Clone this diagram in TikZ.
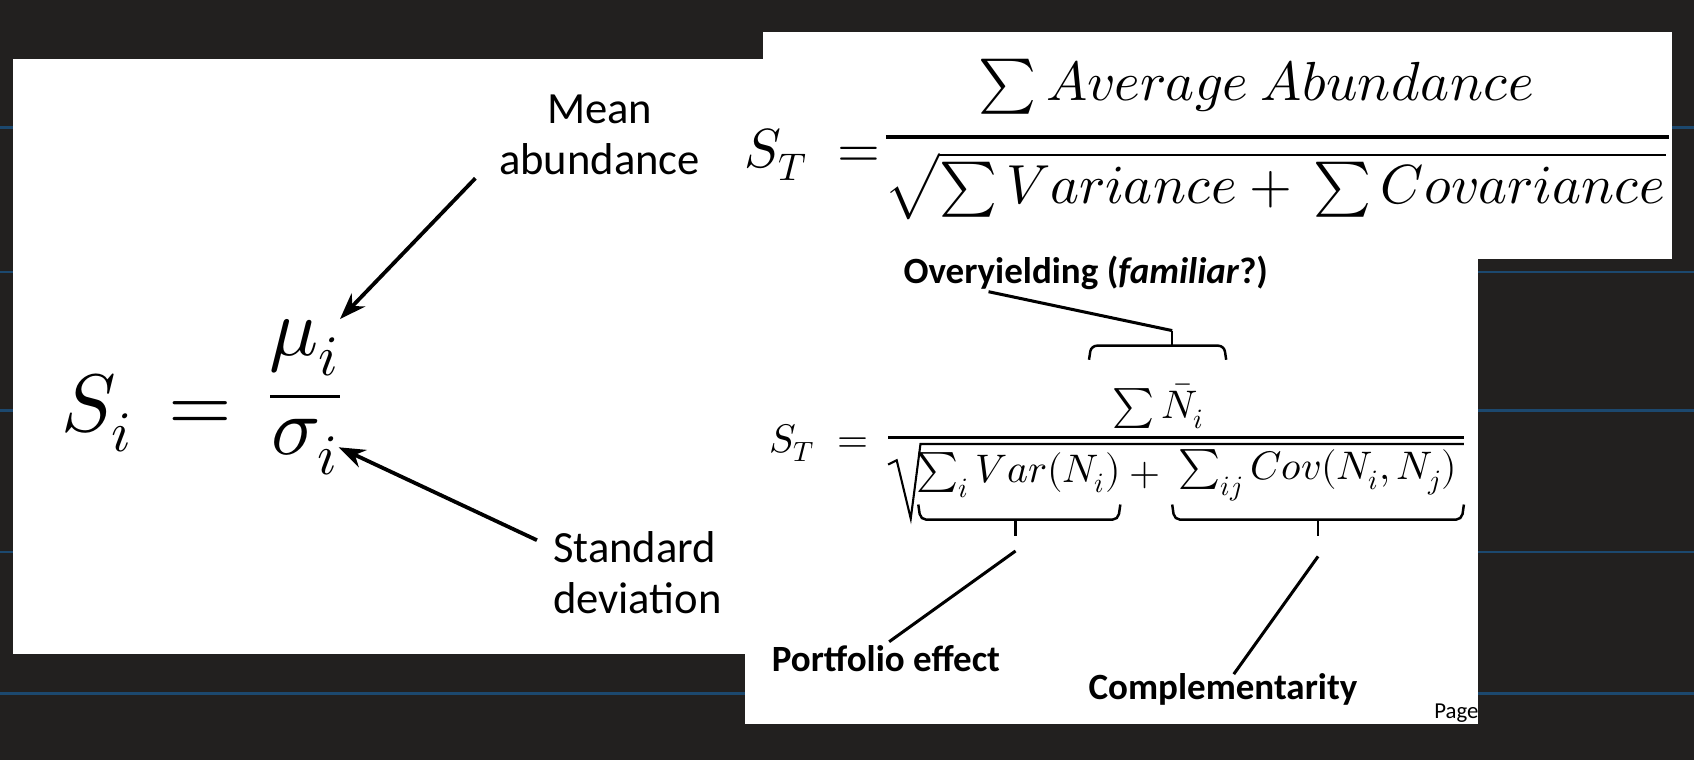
\documentclass[tikz,border=0pt]{standalone}
\usepackage{fontspec}
\setmainfont{Carlito}
\usepackage{unicode-math}
\setmathfont{Latin Modern Math}
\usetikzlibrary{arrows.meta}
\definecolor{bg}{RGB}{34,32,31}
\definecolor{bl}{RGB}{28,72,110}
\tikzset{
  lab/.style={font=\fontsize{23.5}{27}\selectfont, inner sep=0pt, align=center},
  blab/.style={font=\fontsize{19.5}{23}\selectfont\bfseries, inner sep=0pt},
  bigm/.style={font=\fontsize{43}{50}\selectfont, inner sep=0pt},
  midm/.style={font=\fontsize{29}{35}\selectfont, inner sep=0pt},
  smm/.style={font=\fontsize{21}{25}\selectfont, inner sep=0pt},
  arr/.style={line width=2pt, -{Stealth[length=14pt,width=10pt]}},
  lead/.style={line width=1.6pt},
  brace/.style={line width=1.3pt, rounded corners=3pt},
  panel/.style={fill=white, draw=none}
}
\begin{document}
\begin{tikzpicture}[x=0.02cm,y=-0.02cm]
\fill[bg] (0,0) rectangle (1568,703);
\useasboundingbox (0,0) rectangle (1568,703);
\foreach \yy in {118,252,380,511,642} \draw[bl, line width=1.2pt] (0,\yy) -- (1568,\yy);
% panels
\fill[panel] (12,55) rectangle (706,605);
\fill[panel] (706,30) rectangle (1548,240);
\fill[panel] (690,240) rectangle (1368,670);
% left formula
\node[bigm] (si) at (136,382) {$S_i\,=$};
\node[bigm] (mu) at (282,322) {$\mu_i$};
\node[bigm] (sg) at (282,414) {$\sigma_i$};
\draw[line width=2pt] (250,367) -- (315,367);
\node[lab] (mean) at (555,125) {Mean\\abundance};
\node[lab, align=left] (sd) at (590,530) {Standard\\deviation};
\coordinate (ma) at (440,165);
\coordinate (sa) at (497,500);
\draw[arr] (ma) -- (mu.north east);
\draw[arr] (sa) -- (sg.east);
% top right formula
\node[midm] (st1) at (752,143) {$S_T\;=$};
\node[midm] (num1) at (1163,80) {$\sum Average\ Abundance$};
\node[midm] (den1) at (1180,172) {$\sqrt{\sum Variance+\,\sum Covariance}$};
\draw[line width=1.8pt] (820,127) -- (1545,127);
% bottom right formula
\node[smm] (st2) at (758,410) {$S_T\;=$};
\node[smm] (num2) at (1072,376) {$\sum\bar{N}_i$};
\draw[line width=1.2pt] (822,405) -- (1355,405);
\draw[line width=1.1pt] (822,430) -- (830,426) -- (843,480) -- (852,411) -- (1355,411);
\node[smm] (var) at (943,440) {$\sum_i Var(N_i)$};
\node[smm] (pl) at (1060,440) {$+$};
\node[smm] (cov) at (1220,440) {$\sum_{ij} Cov(N_i,N_j)$};
% braces
\draw[brace] (1008,333) -- (1010,320) -- (1133,320) -- (1135,333);
\draw[brace] (1085,320) -- (1085,306);
\draw[brace] (850,467) -- (852,481) -- (1035,481) -- (1037,467);
\draw[brace] (940,481) -- (940,496);
\draw[brace] (1085,467) -- (1087,481) -- (1353,481) -- (1355,467);
\draw[brace] (1220,481) -- (1220,496);
% labels
\node[blab] (ov) at (1005,253) {Overyielding (\textit{familiar}?)};
\node[blab] (pe) at (820,610) {Portfolio effect};
\node[blab] (co) at (1132,638) {Complementarity};
\node[font=\fontsize{12}{14}\selectfont, inner sep=0pt] (pg) at (1348,660) {Page};
\coordinate (ovt) at (1085,306);
\coordinate (pet) at (940,510);
\coordinate (cot) at (1220,515);
\draw[lead] (ovt) -- (915,270);
\draw[lead] (pet) -- (823,594);
\draw[lead] (cot) -- (1142,624);
\end{tikzpicture}
\end{document}
